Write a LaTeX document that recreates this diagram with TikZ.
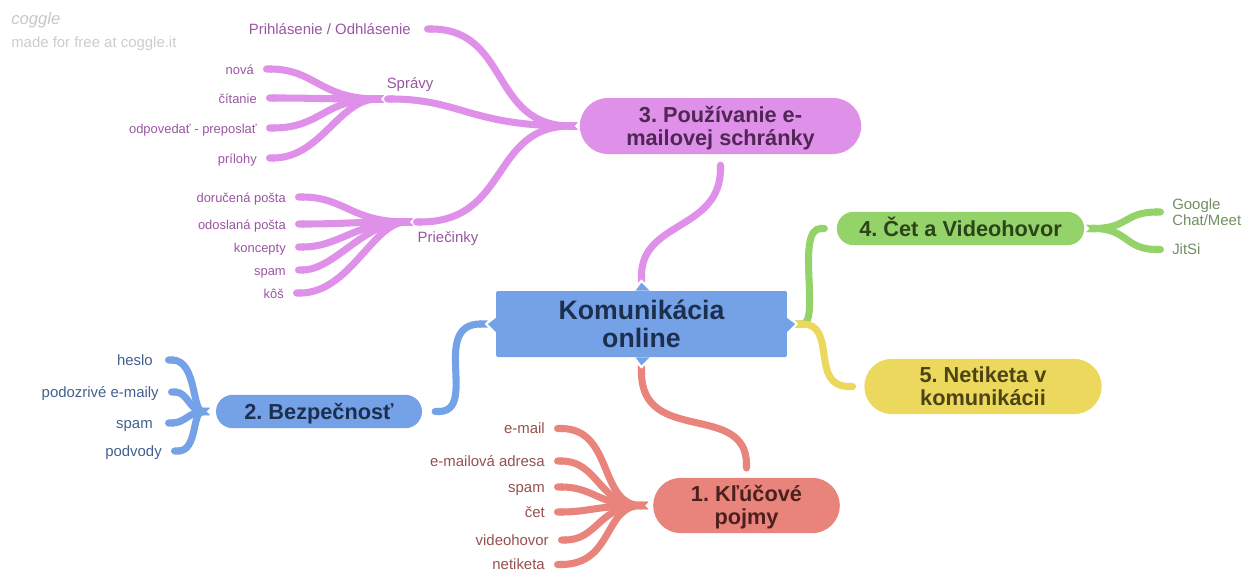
\documentclass[tikz,border=0pt]{standalone}
\usepackage{fontspec}
\setmainfont{Liberation Sans}
\usetikzlibrary{shapes.misc,arrows.meta}
\definecolor{cP}{HTML}{DF90E8}
\definecolor{cB}{HTML}{75A1E7}
\definecolor{cG}{HTML}{94D36A}
\definecolor{cY}{HTML}{ECD85C}
\definecolor{cR}{HTML}{E9847C}
\definecolor{tP}{HTML}{9A55A3}
\definecolor{tB}{HTML}{41608F}
\definecolor{tG}{HTML}{6F8F62}
\definecolor{tR}{HTML}{96504C}
\definecolor{dP}{HTML}{4F2656}
\definecolor{dB}{HTML}{1D2F4F}
\definecolor{dG}{HTML}{2C4419}
\definecolor{dY}{HTML}{4D4414}
\definecolor{dR}{HTML}{4C201D}
\tikzset{
  x=0.75pt,y=-0.75pt,
  br/.style={draw=#1,line width=5.3pt,{Triangle Cap[reversed]}-{Round Cap},line cap=butt},
  pill/.style 2 args={rounded rectangle,fill=#1,text=#2,font=\fontsize{16.3}{17.2}\selectfont\bfseries\frenchspacing,align=center,inner sep=0pt},
  oneline/.style={text height=12pt,text depth=0.3pt},
  leafL/.style 2 args={anchor=east,text=#1,inner xsep=6.75pt,inner ysep=0pt,text height=10.4pt,text depth=2.4pt,font=\fontsize{#2}{#2}\selectfont},
  leafR/.style={anchor=west,text=tG,inner xsep=6pt,inner ysep=0pt,align=left,font=\fontsize{11.2}{11.6}\selectfont},
  tag/.style={text=tP,inner sep=0pt,text height=10.4pt,text depth=2.4pt,font=\fontsize{11.2}{12}\selectfont},
  mark3/.style={fill=cB,draw=none}
}
\begin{document}
\begin{tikzpicture}
\useasboundingbox (0,0) rectangle (1243,571);
% watermark
\node[text=black!22,inner sep=0pt,anchor=west,font=\fontsize{12.5}{12.5}\selectfont\itshape] (cogglemark) at (11,20) {coggle};
\node[text=black!20,inner sep=0pt,anchor=west,font=\fontsize{11.2}{11.6}\selectfont] (madefor) at (11,43.5) {made for free at coggle.it};

% main nodes
\node[fill=cB,rounded corners=1pt,minimum width=218pt,minimum height=49.5pt,inner sep=0pt,text=dB,align=center,font=\fontsize{20}{20.6}\selectfont\bfseries] (root) at (641.5,324) {Komunikácia\\online};
\node[pill={cP}{dP},minimum width=211pt,minimum height=42pt] (n3) at (720.5,126) {\rule{0pt}{15pt}3. Používanie e-\\mailovej schránky};
\node[pill={cG}{dG},oneline,minimum width=185.5pt,minimum height=25pt] (n4) at (960.5,228.5) {4. Čet a Videohovor};
\node[pill={cY}{dY},minimum width=178pt,minimum height=41.5pt] (n5) at (983,386.5) {5. Netiketa v\\komunikácii};
\node[pill={cB}{dB},oneline,minimum width=154.5pt,minimum height=25pt] (n2) at (319,411.5) {2. Bezpečnosť};
\node[pill={cR}{dR},minimum width=140pt,minimum height=41.5pt] (n1) at (746.5,505.5) {\rule{0pt}{15pt}1. Kľúčové\\pojmy};

% joints on the central node
\coordinate (rt) at ([yshift=6pt]root.north);
\coordinate (rb) at ([yshift=-6pt]root.south);
\coordinate (rl) at ([xshift=-6pt]root.west);
\coordinate (rr) at ([xshift=6pt]root.east);

% main branches
\draw[br=cP] (rt) .. controls +(0,-62) and +(0,69) .. ([yshift=-5.5pt]n3.south);
\draw[br=cR] (rb) .. controls +(0,80) and +(0,-70) .. ([yshift=4.5pt]n1.north);
\draw[br=cB] (rl) .. controls +(-58,0) and +(47,0) .. ([xshift=7pt]n2.east);
\draw[br=cG] (rr) .. controls +(26,0) and +(-33,0) .. ([xshift=-6.5pt]n4.west);
\draw[br=cY] (rr) .. controls +(43,0) and +(-47,0) .. ([xshift=-6pt]n5.west);
\path[mark3] (root.north) ++(-6,0) -- (rt) -- ++(8,8) -- cycle;
\path[mark3] (root.south) ++(-6,0) -- (rb) -- ++(8,-8) -- cycle;
\path[mark3] (root.west) ++(0,-6) -- (rl) -- ++(8,8) -- cycle;
\path[mark3] (root.east) ++(0,-6) -- (rr) -- ++(-8,8) -- cycle;

% 3 children
\node[leafL={tP}{11.2},inner xsep=9.75pt] (prih) at (424,29) {Prihlásenie / Odhlásenie};
\coordinate (spravy) at (384,99);
\coordinate (priec) at (413,222);
\coordinate (r3) at ([xshift=-1.5pt]n3.west);
\node[tag] (spravyt) at (410,83) {Správy};
\node[tag] (priect) at (448,237) {Priečinky};
\draw[br=cP] (r3) .. controls (490,126) and (510,29) .. (prih.east);
\draw[br=cP] (r3) .. controls (470,126) and (460,99) .. (spravy);
\draw[br=cP] (r3) .. controls (490,126) and (510,222) .. (priec);

\node[leafL={tP}{9.7}] (nova) at (263,69) {nová};
\node[leafL={tP}{9.7}] (citanie) at (266,98) {čítanie};
\node[leafL={tP}{9.7}] (odp) at (266,128) {odpovedať - preposlať};
\node[leafL={tP}{9.7}] (prilohy) at (266,158) {prílohy};
\foreach \n/\a/\b in {nova/64/52,citanie/64/50,odp/60/55,prilohy/45/55}
  \draw[br=cP] (spravy) .. controls +(-\a,0) and +(\b,0) .. (\n.east);

\node[leafL={tP}{9.7}] (dor) at (295,197) {doručená pošta};
\node[leafL={tP}{9.7}] (ods) at (295,224) {odoslaná pošta};
\node[leafL={tP}{9.7}] (konc) at (295,247) {koncepty};
\node[leafL={tP}{9.7}] (spamp) at (295,270) {spam};
\node[leafL={tP}{9.7}] (kos) at (293,293) {kôš};
\foreach \n/\a/\b in {dor/62/50,ods/62/50,konc/58/45,spamp/50/40,kos/40/57}
  \draw[br=cP] (priec) .. controls +(-\a,0) and +(\b,0) .. (\n.east);

% 4 children
\node[leafR] (goog) at (1164,212) {Google\\Chat/Meet};
\node[leafR] (jitsi) at (1164,249.5) {JitSi};
\coordinate (r4) at ([xshift=1.5pt]n4.east);
\draw[br=cG] (r4) .. controls +(42,0) and +(-40,0) .. (goog.west);
\draw[br=cG] (r4) .. controls +(42,0) and +(-40,0) .. (jitsi.west);

% 2 children
\coordinate (r2) at ([xshift=-4.5pt]n2.west);
\node[leafL={tB}{11.2},inner xsep=9pt] (heslo) at (165,360) {heslo};
\node[leafL={tB}{11.2}] (podoz) at (168,392) {podozrivé e-maily};
\node[leafL={tB}{11.2},inner xsep=9pt] (spamb) at (165,423) {spam};
\node[leafL={tB}{11.2}] (podv) at (171,451) {podvody};
\draw[br=cB] (r2) .. controls +(-18,0) and +(32,0) .. (heslo.east);
\draw[br=cB] (r2) .. controls +(-20,0) and +(20,0) .. (podoz.east);
\draw[br=cB] (r2) .. controls +(-20,0) and +(20,0) .. (spamb.east);
\draw[br=cB] (r2) .. controls +(-18,0) and +(27,0) .. (podv.east);

% 1 children
\coordinate (r1) at ([xshift=-3.5pt]n1.west);
\node[leafL={tR}{11.2}] (email) at (554,428.5) {e-mail};
\node[leafL={tR}{11.2}] (adresa) at (554,461) {e-mailová adresa};
\node[leafL={tR}{11.2}] (spamr) at (554,487) {spam};
\node[leafL={tR}{11.2}] (cet) at (554,512) {čet};
\node[leafL={tR}{11.2}] (video) at (558,540) {videohovor};
\node[leafL={tR}{11.2}] (netik) at (554,564.5) {netiketa};
\foreach \n/\a/\b in {email/50/60,adresa/50/45,spamr/50/40,cet/50/35,video/50/40,netik/45/60}
  \draw[br=cR] (r1) .. controls +(-\a,0) and +(\b,0) .. (\n.east);
\end{tikzpicture}
\end{document}
